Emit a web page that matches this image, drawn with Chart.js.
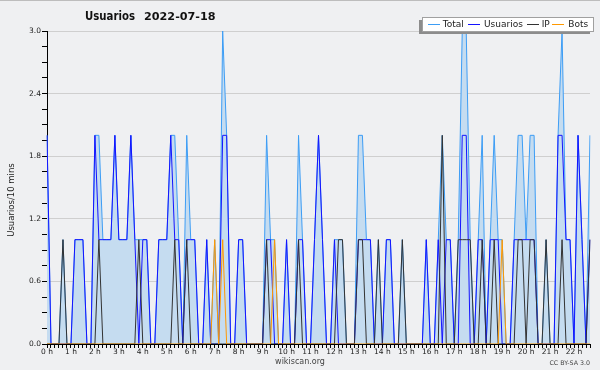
<!DOCTYPE html>
<html><head><meta charset="utf-8">
<script src="https://cdn.jsdelivr.net/npm/chart.js@4/dist/chart.umd.min.js"></script>
<style>html,body{margin:0;padding:0;background:#eff0f2;}canvas{display:block}</style>
</head><body>
<canvas id="c" width="600" height="370"></canvas>
<script>
// ---- data (one value per 10 minutes, from 0:00) ----
const hourLabels = ["0 h","1 h","2 h","3 h","4 h","5 h","6 h","7 h","8 h","9 h","10 h","11 h","12 h","13 h","14 h","15 h","16 h","17 h","18 h","19 h","20 h","21 h","22 h"];
const yTickLabels = ["0.0","0.6","1.2","1.8","2.4","3.0"];
const totalVals = [2,0,0,0,1,0,0,1,1,1, 0,0,2,2,1,1,1,2,1,1, 1,2,1,1,1,1,0,0,1,1, 1,2,2,1,0,2,1,1,0,0, 1,0,1,0,3,2,0,0,1,1, 0,0,0,0,0,2,1,1,0,0, 1,0,0,2,1,0,0,1,2,1, 0,0,1,1,1,0,0,0,2,2, 1,1,0,1,0,1,1,0,0,1, 0,0,0,0,0,1,0,0,1,2, 1,1,0,1,3,3,1,0,1,2, 0,1,2,1,1,0,0,1,2,2, 1,2,2,0,0,1,0,0,2,3, 1,1,0,2,1,0,2];
const usuariosVals = [2,0,0,0,0,0,0,1,1,1, 0,0,2,1,1,1,1,2,1,1, 1,2,1,0,1,1,0,0,1,1, 1,2,1,1,0,1,1,1,0,0, 1,0,0,0,2,2,0,0,1,1, 0,0,0,0,0,1,1,0,0,0, 1,0,0,1,1,0,0,1,2,1, 0,0,1,0,0,0,0,0,1,1, 1,1,0,0,0,1,1,0,0,0, 0,0,0,0,0,1,0,0,1,0, 1,1,0,0,2,2,0,0,1,1, 0,1,1,1,0,0,0,1,1,1, 1,1,1,0,0,0,0,0,2,2, 1,1,0,2,1,0,1];
const ipVals = [0,0,0,0,1,0,0,0,0,0, 0,0,0,1,0,0,0,0,0,0, 0,0,0,1,0,0,0,0,0,0, 0,0,1,0,0,1,0,0,0,0, 0,0,0,0,0,0,0,0,0,0, 0,0,0,0,0,1,0,0,0,0, 0,0,0,1,0,0,0,0,0,0, 0,0,0,1,1,0,0,0,1,1, 0,0,0,1,0,0,0,0,0,1, 0,0,0,0,0,0,0,0,0,2, 0,0,0,1,1,1,1,0,0,1, 0,0,1,0,0,0,0,0,1,1, 0,1,1,0,0,1,0,0,0,1, 0,0,0,0,0,0,1];
const botsVals = [0,0,0,0,0,0,0,0,0,0, 0,0,0,0,0,0,0,0,0,0, 0,0,0,0,0,0,0,0,0,0, 0,0,0,0,0,0,0,0,0,0, 0,0,1,0,1,0,0,0,0,0, 0,0,0,0,0,0,0,1,0,0, 0,0,0,0,0,0,0,0,0,0, 0,0,0,0,0,0,0,0,0,0, 0,0,0,0,0,0,0,0,0,0, 0,0,0,0,0,0,0,0,0,0, 0,0,0,0,0,0,0,0,0,0, 0,0,0,0,1,0,0,0,0,0, 0,0,0,0,0,0,0,0,0,0, 0,0,0,0,0,0,0];
const slots = totalVals.map((_, i) => Math.floor(i / 6) + ":" + String((i % 6) * 10).padStart(2, "0"));

const FONT = "'DejaVu Sans', sans-serif";
const BG = "#eff0f2";
const COLORS = {total: "#3d9df5", totalFill: "#c5dcf0", usuarios: "#1414ff", ip: "#333333", bots: "#ff9900"};

const decor = {
  id: "decor",
  beforeDraw(chart) {
    const c = chart.ctx;
    c.save();
    c.fillStyle = BG;
    c.fillRect(0, 0, chart.width, chart.height);
    c.fillStyle = "#bdbdbd";
    c.fillRect(0, 0, chart.width, 1);
    c.restore();
  },
  afterDraw(chart) {
    const c = chart.ctx;
    c.save();
    // title
    c.fillStyle = "#111";
    c.textBaseline = "middle";
    c.textAlign = "left";
    c.font = "bold 11.5px " + FONT;
    c.fillText("Usuarios", 85, 17, 50);
    c.font = "bold 11.2px " + FONT;
    c.fillText("2022-07-18", 144, 17, 73);
    // y title
    c.save();
    c.translate(12, 200);
    c.rotate(-Math.PI / 2);
    c.font = "8.5px " + FONT;
    c.textAlign = "center";
    c.fillStyle = "#222";
    c.fillText("Usuarios/10 mins", 0, 0);
    c.restore();
    // footer
    c.fillStyle = "#444";
    c.font = "8px " + FONT;
    c.textAlign = "center";
    c.fillText("wikiscan.org", 300, 362);
    c.font = "6.3px " + FONT;
    c.textAlign = "right";
    c.fillText("CC BY-SA 3.0", 590, 363);
    // legend
    c.fillStyle = "#8c8c8c";
    c.fillRect(419, 20, 171, 14);
    c.fillStyle = "#ffffff";
    c.fillRect(422, 17, 171, 14);
    c.strokeStyle = "#a0a0a0";
    c.lineWidth = 1;
    c.strokeRect(422.5, 17.5, 171, 14);
    const items = [
      ["Total", COLORS.total, 428, 442.7],
      ["Usuarios", COLORS.usuarios, 468, 484],
      ["IP", COLORS.ip, 527, 541.7],
      ["Bots", COLORS.bots, 552, 568.3]
    ];
    c.font = "9px " + FONT;
    c.textAlign = "left";
    for (const [t, col, lx, tx] of items) {
      c.strokeStyle = col;
      c.beginPath();
      c.moveTo(lx, 24.5);
      c.lineTo(lx + 12, 24.5);
      c.stroke();
      c.fillStyle = "#222";
      c.fillText(t, tx, 24.5);
    }
    c.restore();
  }
};

const yMinor = [];
for (let k = 0; k <= 20; k++) yMinor.push(Math.round(k * 15) / 100);

const ds = (label, data, color, order, extra) => Object.assign({
  label, data, borderColor: color, borderWidth: 1, pointRadius: 0, tension: 0, fill: false, order
}, extra || {});

new Chart(document.getElementById("c"), {
  type: "line",
  data: {
    labels: slots,
    datasets: [
      ds("Total", totalVals, COLORS.total, 4, {fill: "origin", backgroundColor: COLORS.totalFill}),
      ds("Usuarios", usuariosVals, COLORS.usuarios, 3),
      ds("IP", ipVals, COLORS.ip, 2),
      ds("Bots", botsVals, COLORS.bots, 1)
    ]
  },
  options: {
    responsive: false,
    animation: false,
    devicePixelRatio: 1,
    layout: {padding: {left: 0, right: 10, top: 31, bottom: 0}},
    plugins: {legend: {display: false}, title: {display: false}, tooltip: {enabled: false}},
    scales: {
      x: {
        type: "category",
        offset: false,
        afterFit: s => { s.height = 26; },
        grid: {drawOnChartArea: false, drawTicks: true, tickLength: 4, tickColor: "#000", offset: false},
        border: {color: "#000", width: 1},
        ticks: {
          autoSkip: false, maxRotation: 0, minRotation: 0, padding: 0,
          color: "#222", font: {family: FONT, size: 7.5},
          callback: (v, i) => (i % 6 === 0 ? hourLabels[i / 6] : "")
        }
      },
      y: {
        min: 0, max: 3,
        afterFit: s => { s.width = 47; },
        afterBuildTicks: s => { s.ticks = yMinor.map(v => ({value: v})); },
        grid: {
          drawTicks: true, tickLength: 5, tickColor: "#000",
          color: ctx => {
            const v = ctx.tick ? ctx.tick.value : 0;
            const m = Math.round(v / 0.6);
            return (v > 0 && Math.abs(v - m * 0.6) < 1e-6) ? "#cfcfcf" : "rgba(0,0,0,0)";
          }
        },
        border: {color: "#000", width: 1},
        ticks: {
          padding: 1, color: "#222", font: {family: FONT, size: 7.5},
          callback: v => {
            const m = Math.round(v / 0.6);
            return Math.abs(v - m * 0.6) < 1e-6 ? yTickLabels[m] : "";
          }
        }
      }
    }
  },
  plugins: [decor]
});
</script>
</body></html>
